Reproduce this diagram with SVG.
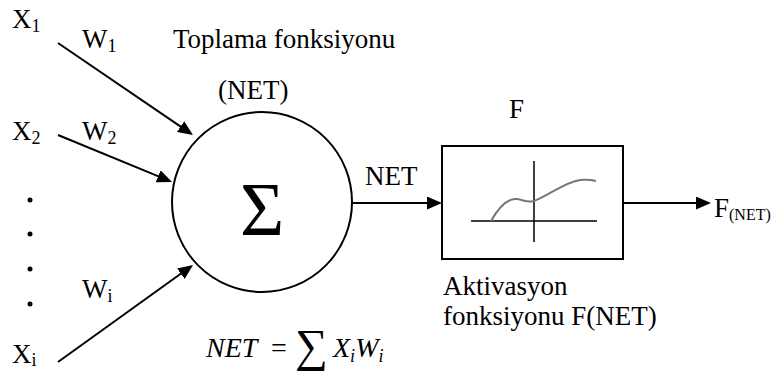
<svg xmlns="http://www.w3.org/2000/svg" width="784" height="372" viewBox="0 0 784 372" font-family="'Liberation Serif', 'DejaVu Serif', serif">
<style>
text{font-family:'Liberation Serif','DejaVu Serif',serif;fill:#000}
.m{font-size:27px}
.s{font-size:18px}
.ln{stroke:#000;stroke-width:2;fill:none}
</style>
<defs>
<marker id="ah" viewBox="0 0 15 13" refX="5" refY="6.5" markerWidth="15" markerHeight="13" markerUnits="userSpaceOnUse" orient="auto">
<path d="M0,0 L15,6.5 L0,13 Z" fill="#000"/>
</marker>
</defs>
<rect width="784" height="372" fill="#fff"/>
<g id="inputs">
<text class="m" x="12" y="28">X<tspan class="s" dy="4">1</tspan></text>
<text class="m" x="82" y="48">W<tspan class="s" dy="4">1</tspan></text>
<text class="m" x="12" y="140">X<tspan class="s" dy="4">2</tspan></text>
<text class="m" x="82" y="140">W<tspan class="s" dy="4">2</tspan></text>
<text class="m" x="82" y="298">W<tspan class="s" dy="4">i</tspan></text>
<text class="m" x="12" y="363">X<tspan class="s" dy="3">i</tspan></text>
<circle cx="30" cy="200" r="2.5"/>
<circle cx="30" cy="234" r="2.5"/>
<circle cx="30" cy="269" r="2.5"/>
<circle cx="30" cy="304" r="2.5"/>
</g>
<g id="sum">
<text class="m" x="173" y="48">Toplama fonksiyonu</text>
<text class="m" x="218" y="99">(NET)</text>
<circle cx="262" cy="202" r="90" class="ln"/>
<text x="240" y="235" style="font-size:76px">Σ</text>
<text x="206" y="357" style="font-size:28px;font-style:italic">NET</text>
<text x="271" y="357" style="font-size:28px">=</text>
<text x="295" y="361" style="font-size:46px">∑</text>
<text x="333" y="357" style="font-size:28px;font-style:italic">X<tspan dy="5" style="font-size:18px">i</tspan><tspan dy="-5">W</tspan><tspan dy="5" style="font-size:18px">i</tspan></text>
</g>
<g id="activation">
<text class="m" x="509" y="118">F</text>
<rect x="442" y="146" width="181" height="113" class="ln"/>
<line x1="471" y1="221" x2="597" y2="221" stroke="#000" stroke-width="1.5"/>
<line x1="534" y1="161" x2="534" y2="242" stroke="#000" stroke-width="1.5"/>
<path d="M491,221 C500,205 508,198 517,199 C524,200 527,203 534,201 C548,196 565,182 580,180 C588,179 592,180 596,181" fill="none" stroke="#777" stroke-width="2"/>
<text class="m" x="443" y="295">Aktivasyon</text>
<text class="m" x="443" y="325">fonksiyonu F(NET)</text>
</g>
<g id="output">
<text class="m" x="714" y="217">F<tspan dy="3" style="font-size:16px">(NET)</tspan></text>
</g>
<g id="connectors">
<line x1="58" y1="43" x2="184.7" y2="129.4" class="ln" marker-end="url(#ah)"/>
<line x1="58" y1="135" x2="162.8" y2="178.2" class="ln" marker-end="url(#ah)"/>
<line x1="58" y1="362" x2="184.9" y2="270.8" class="ln" marker-end="url(#ah)"/>
<line x1="353" y1="203" x2="432" y2="203" class="ln" marker-end="url(#ah)"/>
<text class="m" x="365" y="185">NET</text>
<line x1="623" y1="203" x2="701" y2="203" class="ln" marker-end="url(#ah)"/>
</g>
</svg>
